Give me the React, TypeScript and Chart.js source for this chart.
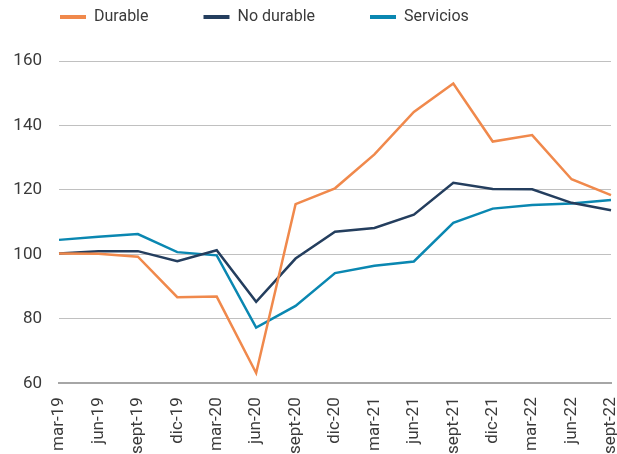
import React, { useEffect, useRef } from "react";
import { Chart, registerables } from "chart.js";

Chart.register(...registerables);

const categories = [
  "mar-19", "jun-19", "sept-19", "dic-19", "mar-20", "jun-20", "sept-20", "dic-20",
  "mar-21", "jun-21", "sept-21", "dic-21", "mar-22", "jun-22", "sept-22",
];
const durable = [100.3, 100.2, 99.3, 86.7, 86.9, 63.2, 115.6, 120.5, 131, 144.2, 153, 135, 137, 123.3, 118.4];
const noDurable = [100.3, 101, 101, 97.9, 101.3, 85.3, 98.7, 107, 108.2, 112.3, 122.2, 120.3, 120.2, 116, 113.7];
const servicios = [104.5, 105.5, 106.3, 100.7, 99.7, 77.3, 84, 94.2, 96.5, 97.8, 109.8, 114.2, 115.3, 115.8, 116.9];
const seriesNames = ["Durable", "No durable", "Servicios"];
const seriesColors = ["#F0894C", "#243E5E", "#0A87B1"];
const yTicks = [60, 80, 100, 120, 140, 160];

const FONT = "Roboto, 'DejaVu Sans', sans-serif";
const TEXT = "#3A3A3A";

const legendHeightPlugin = {
  id: "legendHeight",
  afterInit(chart: any) {
    const legend = chart.legend;
    if (!legend) return;
    const fit = legend.fit;
    legend.fit = function () {
      fit.call(this);
      this.height = 107;
    };
  },
};

export default function App() {
  const ref = useRef<HTMLCanvasElement | null>(null);
  useEffect(() => {
    document.body.style.margin = "0";
    if (!ref.current) return;
    const values = [durable, noDurable, servicios];
    const chart = new Chart(ref.current, {
      type: "line",
      data: {
        labels: categories,
        datasets: values.map((v, i) => ({
          label: seriesNames[i],
          data: v,
          borderColor: seriesColors[i],
          backgroundColor: seriesColors[i],
          borderWidth: 2.5,
          pointRadius: 0,
          tension: 0,
        })),
      },
      plugins: [legendHeightPlugin],
      options: {
        animation: false,
        responsive: false,
        maintainAspectRatio: false,
        layout: { padding: { left: 5, right: 6, top: -46, bottom: -14 } },
        plugins: {
          tooltip: { enabled: false },
          legend: {
            position: "top",
            align: "start",
            labels: {
              boxWidth: 26,
              boxHeight: 4,
              padding: 55,
              color: TEXT,
              font: { family: FONT, size: 16 },
              generateLabels: () =>
                seriesNames.map((n, i) => ({
                  text: n,
                  fillStyle: seriesColors[i],
                  strokeStyle: seriesColors[i],
                  lineWidth: 0,
                  datasetIndex: i,
                  fontColor: TEXT,
                })),
            },
          },
        },
        scales: {
          x: {
            offset: false,
            grid: { display: false, drawTicks: false },
            border: { display: true, color: "#A6A6A6", width: 2 },
            afterFit: (axis: any) => {
              axis.paddingLeft = 0;
              axis.paddingRight = 0;
            },
            ticks: {
              minRotation: 90,
              maxRotation: 90,
              autoSkip: false,
              padding: 14,
              color: TEXT,
              font: { family: FONT, size: 17 },
            },
          },
          y: {
            min: 60,
            max: 160,
            afterBuildTicks: (axis: any) => {
              axis.ticks = yTicks.map((v) => ({ value: v }));
            },
            afterFit: (axis: any) => {
              axis.width = 54;
            },
            grid: { color: "#C0C0C0", lineWidth: 1, drawTicks: false },
            border: { display: false },
            ticks: {
              padding: 17,
              color: TEXT,
              font: { family: FONT, size: 17 },
            },
          },
        },
      },
    });
    return () => chart.destroy();
  }, []);
  return (
    <div style={{ position: "absolute", left: 0, top: 0, width: 617, height: 454 }}>
      <canvas ref={ref} width={617} height={454} />
    </div>
  );
}
